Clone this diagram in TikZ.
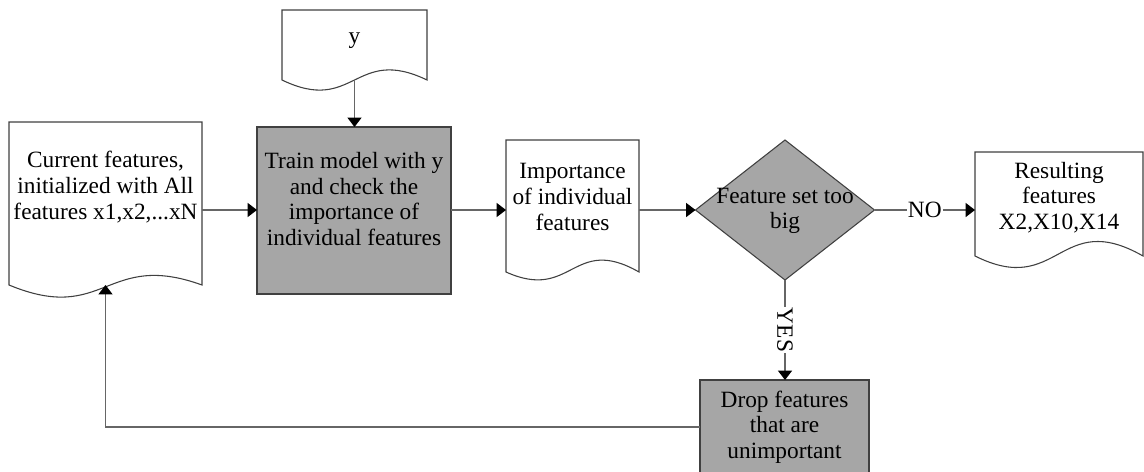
\documentclass[tikz,border=0pt]{standalone}
\usepackage{fontspec}
\setmainfont{Liberation Serif}
\usetikzlibrary{arrows.meta,calc,shapes.geometric}

% outline of a "document" shape: flat top, wavy bottom
% #1 node name, #2 depth of the trough, #3 height of the crest
\newcommand\docwave[3]{%
  \draw[docline] (#1.south west) -- (#1.north west) -- (#1.north east) -- (#1.south east)
    .. controls ($(#1.south)+(0,-#3)$) and ($(#1.south)+(0,#2)$) .. (#1.south west) -- cycle;}

\tikzset{
  docline/.style={draw=black!75, line width=0.8pt, fill=white},
  docbox/.style={draw=none, inner sep=0pt, outer sep=0pt},
  procbox/.style={draw=black!75, line width=0.8pt, fill=black!35, inner sep=0pt, outer sep=0pt, align=center},
  decision/.style={diamond, draw=black!75, line width=0.8pt, fill=black!35, inner sep=0pt, outer sep=0pt},
  txt/.style={align=center, inner sep=0pt, font=\fontsize{17.5pt}{19.2pt}\selectfont},
  arr/.style={draw=black!60, line width=0.8pt, -{Triangle[length=7pt,width=10.5pt,black]}},
  lbl/.style={fill=white, inner sep=1pt, font=\fontsize{17.5pt}{19.2pt}\selectfont}
}

\begin{document}
\begin{tikzpicture}[x=0.75pt,y=-0.75pt]
\useasboundingbox (0,0) rectangle (1144,471);

% document shapes
\node[docbox, minimum width=145*0.75pt, minimum height=70*0.75pt] (ydoc) at (354.5,45) {};
\docwave{ydoc}{35}{35}
\node[txt] (ytxt) at (354.5,41) {y};

\node[docbox, minimum width=193*0.75pt, minimum height=163*0.75pt] (cur) at (105.5,203.5) {};
\docwave{cur}{40}{35}
\node[txt] (curtxt) at (105.5,187) {Current features,\\initialized with All\\features x1,x2,...xN};

\node[docbox, minimum width=133*0.75pt, minimum height=132*0.75pt] (imp) at (572.5,206) {};
\docwave{imp}{30}{38}
\node[txt] (imptxt) at (572.5,197) {Importance\\of individual\\features};

\node[docbox, minimum width=168*0.75pt, minimum height=104*0.75pt] (res) at (1059,204) {};
\docwave{res}{42}{48}
\node[txt] (restxt) at (1059,197.5) {Resulting\\features\\X2,X10,X14};

% process boxes
\node[procbox, minimum width=194*0.75pt, minimum height=167*0.75pt] (train) at (354,210.5) {};
\node[txt] (traintxt) at (354,199) {Train model with y\\and check the\\importance of\\individual features};

\node[procbox, minimum width=169*0.75pt, minimum height=94*0.75pt, font=\fontsize{17.5pt}{19.2pt}\selectfont] (drop) at (784.5,427)
  {Drop features\\that are\\unimportant};

% decision
\node[decision, minimum width=179*0.75pt, minimum height=140*0.75pt] (dia) at (785,210) {};
\node[txt] (diatxt) at (785,211) {Feature set too\\big};

% connectors
\draw[arr] (ydoc.south) -- (ydoc.south |- train.north);
\draw[arr] (cur.east |- dia) -- (train.west |- dia);
\draw[arr] (train.east |- dia) -- (imp.west |- dia);
\draw[arr] (imp.east |- dia) -- (dia.west);
\draw[arr] (dia.east) -- node[lbl] {NO} (res.west |- dia);
\draw[arr] (dia.south) -- node[lbl, rotate=-90] {YES} (drop.north -| dia.south);
\draw[arr] (drop.west) -| (cur.south);
\end{tikzpicture}
\end{document}
